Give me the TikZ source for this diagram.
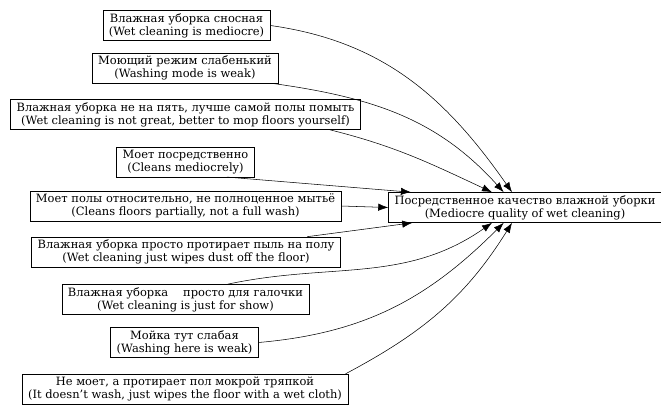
\documentclass[tikz,border=0pt]{standalone}
\usepackage{fontspec}
\setmainfont{DejaVu Serif}
\usepackage{tikz}
\usetikzlibrary{arrows.meta, positioning}
\tikzset{
  reason/.style={
    rectangle, draw=black, thin, fill=white,
    inner xsep=4.5pt, inner ysep=2pt,
    align=center, font=\fontsize{8.6}{10}\selectfont
  },
  effect/.style={
    reason, minimum width=204pt
  },
  arrow/.style={-{Latex[length=7.5pt,width=5.5pt]}, draw=black, thin}
}

\begin{document}
\begin{tikzpicture}[x=0.75pt, y=0.75pt]

% canvas (pixel grid of the reference)
\useasboundingbox (0,0) rectangle (661,-405);

% Reasons on the left
\node[reason] (wetMediocre) at (186.5,-25.5) {Влажная уборка сносная\\(Wet cleaning is mediocre)};
\node[reason] (washWeak) at (185,-68) {Моющий режим слабенький\\(Washing mode is weak)};
\node[reason] (notGreat) at (185.5,-114.5) {Влажная уборка не на пять, лучше самой полы помыть\\(Wet cleaning is not great, better to mop floors yourself)};
\node[reason] (cleansMed) at (185.5,-162) {Моет посредственно\\(Cleans mediocrely)};
\node[reason] (partial) at (185.5,-206) {Моет полы относительно, не полноценное мытьё\\(Cleans floors partially, not a full wash)};
\node[reason] (wipesDust) at (186,-252) {Влажная уборка просто протирает пыль на полу\\(Wet cleaning just wipes dust off the floor)};
\node[reason] (forShow) at (185.5,-299.5) {Влажная уборка\hspace{1.3em}просто для галочки\\(Wet cleaning is just for show)};
\node[reason] (weakHere) at (184.5,-342.5) {Мойка тут слабая\\(Washing here is weak)};
\node[reason] (wetCloth) at (185,-389) {Не моет, а протирает пол мокрой тряпкой\\(It doesn't wash, just wipes the floor with a wet cloth)};

% Effect on the right
\node[effect] (quality) at (525,-207.5) {Посредственное качество влажной уборки\\(Mediocre quality of wet cleaning)};

% Arrows
\draw[arrow] (wetMediocre.east) to[out=-8, in=125] ([xshift=-9.75pt]quality.north);
\draw[arrow] (washWeak.-10) to[out=-8, in=132] ([xshift=-16pt]quality.north);
\draw[arrow] ([xshift=-23pt]notGreat.south east) to[out=-14, in=155] ([xshift=-24.75pt]quality.north);
\draw[arrow] (cleansMed.-20) -- ([xshift=17pt]quality.north west);
\draw[arrow] (partial.east) -- (quality.west);
\draw[arrow] ([xshift=-25pt]wipesDust.north east) -- ([xshift=18pt]quality.south west);
\draw[arrow] (forShow.20) to[out=12, in=-145] ([xshift=-24.75pt]quality.south);
\draw[arrow] (weakHere.east) to[out=5, in=-135] ([xshift=-16pt]quality.south);
\draw[arrow] ([xshift=-2pt]wetCloth.north east) to[out=28, in=-122] ([xshift=-9.75pt]quality.south);

\end{tikzpicture}
\end{document}
